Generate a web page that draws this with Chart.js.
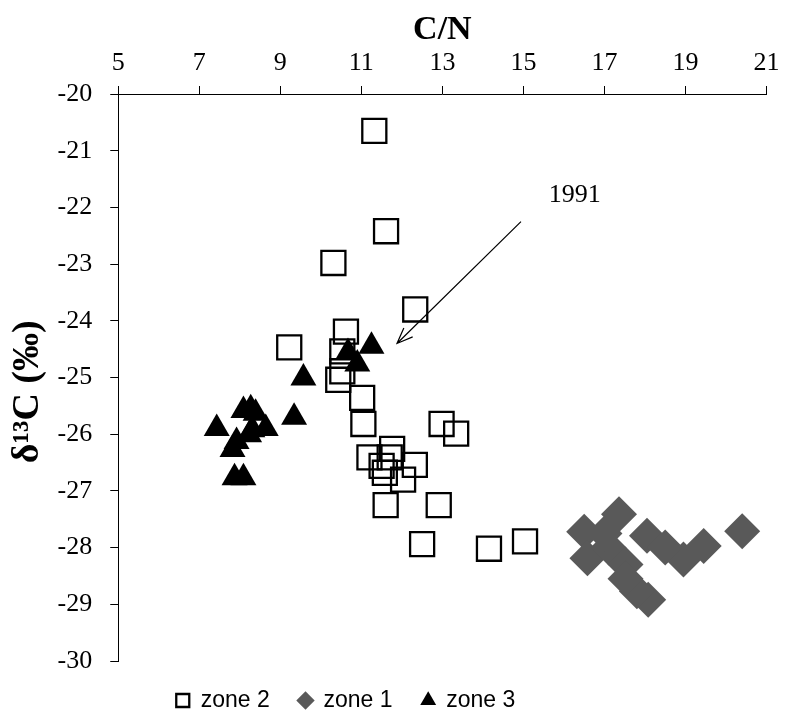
<!DOCTYPE html>
<html>
<head>
<meta charset="utf-8">
<script src="https://cdn.jsdelivr.net/npm/chart.js@4.4.1/dist/chart.umd.min.js"></script>
<style>
  html, body { margin: 0; padding: 0; background: #fff; }
</style>
</head>
<body>
<canvas id="chart" width="787" height="717"></canvas>
<script>
// zone 2 (open squares)
const zone2X = [11.32, 11.61, 10.31, 12.33, 10.62, 9.22, 10.53, 10.53, 10.43, 11.02, 11.05, 12.98, 13.34,
  11.76, 11.20, 11.70, 12.32, 11.50, 11.58, 12.03, 11.60, 12.91, 12.50, 14.15, 15.04];
const zone2Y = [-20.65, -22.42, -22.98, -23.80, -24.19, -24.47, -24.54, -24.89, -25.04, -25.36, -25.82, -25.82, -25.99,
  -26.26, -26.41, -26.41, -26.54, -26.56, -26.68, -26.80, -27.25, -27.25, -27.94, -28.02, -27.89];

// zone 1 (grey diamonds)
const zone1X = [20.40, 17.36, 16.50, 16.58, 18.05, 19.45, 18.95, 18.50, 18.08, 17.80, 17.10, 17.52, 17.52, 17.00];
const zone1Y = [-27.71, -27.41, -27.72, -28.19, -27.79, -27.97, -28.21, -28.00, -28.92, -28.77, -28.00, -28.30, -28.55, -27.75];

// zone 3 (black triangles)
const zone3X = [11.25, 10.67, 10.90, 9.57, 9.34, 7.43, 8.09, 8.27, 8.39, 8.64, 7.92, 7.82, 8.31, 8.23, 7.87, 8.09];
const zone3Y = [-24.45, -24.56, -24.76, -25.01, -25.70, -25.90, -25.58, -25.55, -25.63, -25.90, -26.13, -26.27, -25.92, -26.01, -26.77, -26.77];

const xTicks = [5, 7, 9, 11, 13, 15, 17, 19, 21];
const yTicks = [-20, -21, -22, -23, -24, -25, -26, -27, -28, -29, -30];

// arrow annotation "1991"
const arrowFrom = [14.94, -22.25];
const arrowTo = [11.88, -24.40];
const noteLabel = "1991";
const notePos = [16.27, -21.78];

const serif = "'Liberation Serif', 'Times New Roman', serif";
const legendShift = 48;
const legendGap = 18;

function toPoints(xs, ys) {
  return xs.map((x, i) => ({ x: x, y: ys[i] }));
}

const arrowPlugin = {
  id: "arrowNote",
  afterLayout(chart) {
    // Excel puts the legend below and right of the plot's left edge
    const lg = chart.legend;
    const dy = chart.chartArea.bottom + legendGap - lg.top;
    lg.left += legendShift;
    lg.right += legendShift;
    lg.top += dy;
    lg.bottom += dy;
  },
  afterDatasetsDraw(chart) {
    const ctx = chart.ctx;
    const xs = chart.scales.x;
    const ys = chart.scales.y;
    const x1 = xs.getPixelForValue(arrowFrom[0]);
    const y1 = ys.getPixelForValue(arrowFrom[1]);
    const x2 = xs.getPixelForValue(arrowTo[0]);
    const y2 = ys.getPixelForValue(arrowTo[1]);
    const ang = Math.atan2(y2 - y1, x2 - x1);
    const head = 17;
    ctx.save();
    ctx.strokeStyle = "#000";
    ctx.lineWidth = 1.2;
    ctx.beginPath();
    ctx.moveTo(x1, y1);
    ctx.lineTo(x2, y2);
    ctx.moveTo(x2 - head * Math.cos(ang - 0.38), y2 - head * Math.sin(ang - 0.38));
    ctx.lineTo(x2, y2);
    ctx.lineTo(x2 - head * Math.cos(ang + 0.38), y2 - head * Math.sin(ang + 0.38));
    ctx.stroke();
    ctx.fillStyle = "#000";
    ctx.font = "26px " + serif;
    ctx.textAlign = "center";
    ctx.textBaseline = "middle";
    ctx.fillText(noteLabel, xs.getPixelForValue(notePos[0]), ys.getPixelForValue(notePos[1]));
    ctx.restore();
  }
};

new Chart(document.getElementById("chart"), {
  type: "scatter",
  data: {
    datasets: [
      {
        label: "zone 2",
        data: toPoints(zone2X, zone2Y),
        pointStyle: "rect",
        pointRadius: 17,
        pointHoverRadius: 17,
        backgroundColor: "rgba(255,255,255,0)",
        borderColor: "#000",
        borderWidth: 2.3,
        order: 3
      },
      {
        label: "zone 1",
        data: toPoints(zone1X, zone1Y),
        pointStyle: "rectRot",
        pointRadius: 18,
        pointHoverRadius: 18,
        backgroundColor: "#595959",
        borderColor: "#595959",
        borderWidth: 0,
        order: 2
      },
      {
        label: "zone 3",
        data: toPoints(zone3X, zone3Y),
        pointStyle: "triangle",
        pointRadius: 15,
        pointHoverRadius: 15,
        backgroundColor: "#000",
        borderColor: "#000",
        borderWidth: 0,
        order: 1
      }
    ]
  },
  options: {
    responsive: false,
    animation: false,
    layout: { padding: { left: 5, right: 19, top: 10, bottom: 13 } },
    scales: {
      x: {
        type: "linear",
        position: "top",
        min: 5,
        max: 21,
        afterBuildTicks: (scale) => { scale.ticks = xTicks.map((v) => ({ value: v })); },
        ticks: { color: "#000", font: { family: serif, size: 26 }, padding: 7.5, maxRotation: 0 },
        grid: { drawOnChartArea: false, tickLength: 8, color: "#000", lineWidth: 1 },
        border: { color: "#000", width: 1 },
        title: {
          display: true,
          text: "C/N",
          color: "#000",
          font: { family: serif, size: 34, weight: "bold" },
          padding: { top: 0, bottom: -11 }
        }
      },
      y: {
        type: "linear",
        min: -30,
        max: -20,
        afterBuildTicks: (scale) => { scale.ticks = yTicks.map((v) => ({ value: v })); },
        ticks: { color: "#000", font: { family: serif, size: 26 }, padding: 18 },
        grid: { drawOnChartArea: false, tickLength: 8, color: "#000", lineWidth: 1 },
        border: { color: "#000", width: 1 },
        title: {
          display: true,
          text: "δ¹³C (‰)   ",
          color: "#000",
          font: { family: serif, size: 38, weight: "bold" },
          padding: { top: 0, bottom: -11 }
        }
      }
    },
    plugins: {
      tooltip: { enabled: false },
      legend: {
        position: "bottom",
        align: "start",
        fullSize: false,
        labels: {
          usePointStyle: true,
          boxWidth: 13,
          boxHeight: 13,
          padding: 10,
          color: "#000",
          sort: (a, b) => a.datasetIndex - b.datasetIndex,
          generateLabels: (chart) =>
            Chart.defaults.plugins.legend.labels.generateLabels(chart).map((item) => {
              item.text = item.text + "   ";
              return item;
            }),
          font: { family: "'Liberation Sans', Arial, sans-serif", size: 23 }
        }
      }
    }
  },
  plugins: [arrowPlugin]
});
</script>
</body>
</html>
